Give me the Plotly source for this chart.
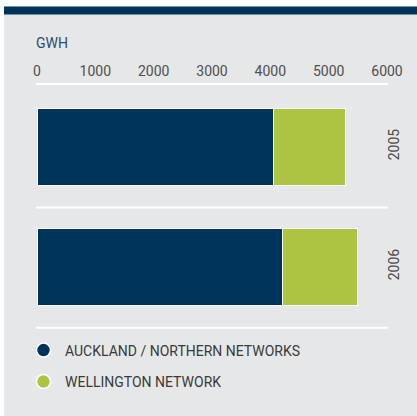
import plotly.graph_objects as go

years = ["2005", "2006"]
auckland = [4060, 4210]
wellington = [1220, 1290]
series_names = ["AUCKLAND / NORTHERN NETWORKS", "WELLINGTON NETWORK"]
tick_vals = [0, 1000, 2000, 3000, 4000, 5000, 6000]
tick_text = ["0", "1000", "2000", "3000", "4000", "5000", "6000"]

NAVY = "#003359"
GREEN = "#adc443"
BG = "#e6e7e8"
W, H = 417, 416
ML, MR, MT, MB = 37, 30, 84, 88
PW, PH = W - ML - MR, H - MT - MB

def px_x(p):
    return (p - ML) / PW

def px_y(p):
    return (H - MB - p) / PH

fig = go.Figure()
fig.add_trace(go.Bar(y=years, x=auckland, orientation="h", marker=dict(color=NAVY, line=dict(color="white", width=1)),
                     name=series_names[0], showlegend=False))
fig.add_trace(go.Bar(y=years, x=wellington, orientation="h", marker=dict(color=GREEN, line=dict(color="white", width=1)),
                     name=series_names[1], showlegend=False))
fig.add_trace(go.Scatter(x=[None], y=[None], mode="markers", name=series_names[0],
                         marker=dict(color=NAVY, size=14, line=dict(color="white", width=1.5)), legend="legend"))
fig.add_trace(go.Scatter(x=[None], y=[None], mode="markers", name=series_names[1],
                         marker=dict(color=GREEN, size=14, line=dict(color="white", width=1.5)), legend="legend2"))

shapes = [
    dict(type="rect", xref="paper", yref="paper", x0=px_x(0), x1=px_x(4), y0=px_y(H), y1=px_y(0),
         fillcolor="white", line=dict(width=0)),
    dict(type="rect", xref="paper", yref="paper", x0=px_x(0), x1=px_x(W), y0=px_y(6.5), y1=px_y(0),
         fillcolor="white", line=dict(width=0)),
    dict(type="rect", xref="paper", yref="paper", x0=px_x(4), x1=px_x(W), y0=px_y(14.5), y1=px_y(6.5),
         fillcolor=NAVY, line=dict(width=0)),
]
for yp in [84, 207.5, 327.7]:
    shapes.append(dict(type="line", xref="paper", yref="paper", x0=px_x(36), x1=px_x(387.7),
                       y0=px_y(yp), y1=px_y(yp), line=dict(color="white", width=2)))

leg_common = dict(orientation="v", xanchor="left", yanchor="middle", bgcolor="rgba(0,0,0,0)",
                  font=dict(family="Roboto", size=14, color="#3a3a3a"), itemwidth=33)

fig.update_layout(
    width=W, height=H,
    margin=dict(l=ML, r=MR, t=MT, b=MB, pad=0),
    paper_bgcolor=BG, plot_bgcolor="rgba(0,0,0,0)",
    barmode="stack", bargap=0.358,
    showlegend=True,
    legend=dict(x=px_x(22), y=px_y(350.5), **leg_common),
    legend2=dict(x=px_x(22), y=px_y(382), **leg_common),
    xaxis=dict(side="top", range=[0, 6000], tickvals=tick_vals, ticktext=tick_text,
               showgrid=False, zeroline=False, showline=False, ticks="", ticklabelstandoff=4,
               tickfont=dict(family="Roboto", size=14, color="#4f4f4f")),
    yaxis=dict(side="right", range=[1.5108, -0.5225], tickangle=-90, showgrid=False, zeroline=False,
               showline=False, ticks="", type="category", ticklabelstandoff=-3,
               tickfont=dict(family="Roboto", size=14, color="#4a4a4a")),
    shapes=shapes,
    annotations=[dict(text="GWH", xref="paper", yref="paper", x=px_x(34), y=px_y(43), xanchor="left",
                      yanchor="middle", showarrow=False,
                      font=dict(family="Roboto", size=14, color="#2b4b6e"))],
)
fig.write_html("out.html", config={"displayModeBar": False},
               post_script="document.body.style.margin='0';document.body.style.overflow='hidden';")
